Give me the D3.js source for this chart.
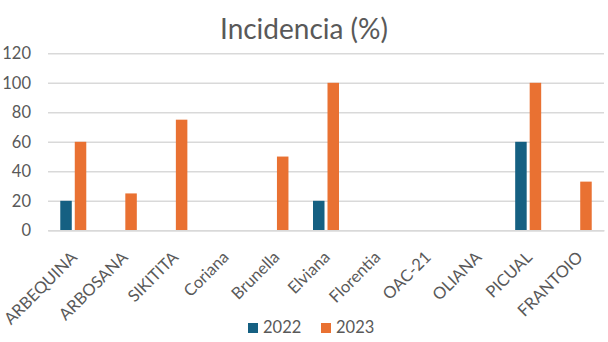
<!DOCTYPE html>
<html>
<head>
<meta charset="utf-8">
<script src="https://cdn.jsdelivr.net/npm/d3@7"></script>
<style>
  html, body { margin: 0; padding: 0; background: #ffffff; }
  svg { display: block; }
  text { font-family: Lato, "Open Sans", sans-serif; fill: #595959; }
</style>
</head>
<body>
<script>
// Incidencia (%) por variedad, campañas 2022 y 2023
const categories = ["ARBEQUINA", "ARBOSANA", "SIKITITA", "Coriana", "Brunella", "Elviana",
                    "Florentia", "OAC-21", "OLIANA", "PICUAL", "FRANTOIO"];
const seriesNames = ["2022", "2023"];
const values2022 = [20, 0, 0, 0, 0, 20, 0, 0, 0, 60, 0];
const values2023 = [60, 25, 75, 0, 50, 100, 0, 0, 0, 100, 33];
const yTicks = [0, 20, 40, 60, 80, 100, 120];
const colors = ["#156082", "#E97132"];

const W = 608, H = 342;
const margin = { left: 48, right: 4, top: 53.3, bottom: 111.7 };

const svg = d3.select("body").append("svg").attr("width", W).attr("height", H);

const x = d3.scaleBand().domain(categories).range([margin.left, W - margin.right]);
const y = d3.scaleLinear().domain([0, 120]).range([H - margin.bottom, margin.top]);

// horizontal gridlines with value labels
const yAxis = d3.axisLeft(y).tickValues(yTicks).tickSize(-(W - margin.right - margin.left)).tickPadding(17);
const gy = svg.append("g").attr("transform", `translate(${margin.left},0)`).call(yAxis);
gy.select(".domain").remove();
gy.selectAll(".tick line").attr("stroke", "#D9D9D9").attr("stroke-width", 1.5);
gy.selectAll(".tick text").attr("font-size", 16.5).attr("fill", "#595959")
  .attr("font-family", "Lato, 'Open Sans', sans-serif");

// bars
const barW = 11.5, barGap = 3;
const series = [values2022, values2023];
series.forEach((vals, si) => {
  svg.append("g").selectAll("rect")
    .data(categories.map((c, i) => ({ c, v: vals[i] })))
    .join("rect")
    .attr("x", d => x(d.c) + x.bandwidth() / 2 + (si === 0 ? -barW - barGap / 2 : barGap / 2))
    .attr("y", d => y(d.v))
    .attr("width", barW)
    .attr("height", d => y(0) - y(d.v))
    .attr("fill", colors[si]);
});

// category axis line
const xAxis = d3.axisBottom(x).tickSize(0).tickSizeOuter(0);
const gx = svg.append("g").attr("transform", `translate(0,${y(0)})`).call(xAxis);
gx.select(".domain").attr("stroke", "#D9D9D9").attr("stroke-width", 1.5);
gx.selectAll(".tick text")
  .attr("font-size", 16.5)
  .attr("fill", "#595959")
  .attr("font-family", "Lato, 'Open Sans', sans-serif")
  .attr("text-anchor", "end")
  .attr("dy", 0)
  .attr("y", 0)
  .attr("transform", "translate(5,28) rotate(-45)");

// title
svg.append("text")
  .attr("x", W / 2).attr("y", 39.3)
  .attr("text-anchor", "middle")
  .attr("font-size", 28)
  .text("Incidencia (%)");

// legend
const legend = svg.append("g");
const legendX = [248, 321];
seriesNames.forEach((name, i) => {
  legend.append("rect").attr("x", legendX[i]).attr("y", 323).attr("width", 10).attr("height", 10).attr("fill", colors[i]);
  legend.append("text").attr("x", legendX[i] + 15).attr("y", 333).attr("font-size", 16.5).text(name);
});
</script>
</body>
</html>
